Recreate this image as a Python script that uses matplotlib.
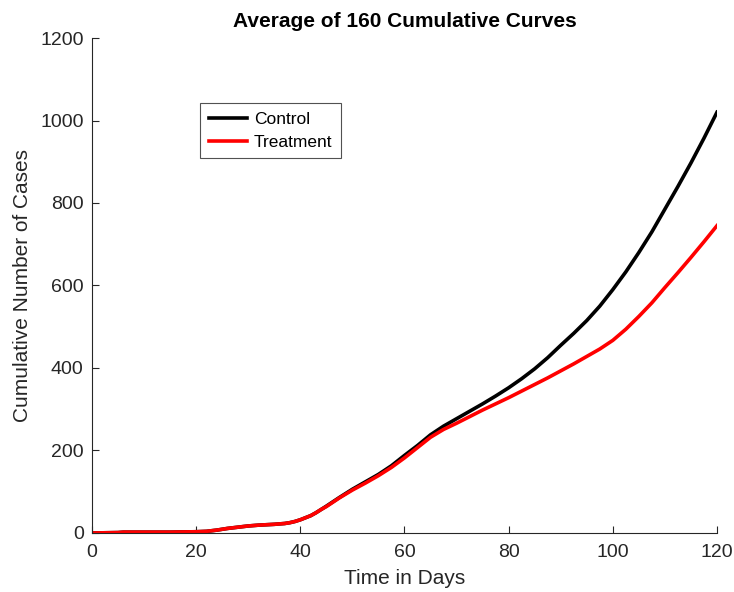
import numpy as np
import matplotlib.pyplot as plt

plt.rcParams['font.family'] = ['Liberation Sans', 'DejaVu Sans']

# averaged cumulative cases
days = [0, 5, 6, 10, 15, 20, 22, 24, 26, 28, 30, 32, 35, 37, 38, 39, 40, 41, 42,
        43, 44, 45, 47.5, 50, 52.5, 55, 57.5, 60, 62.5, 65, 67.5, 70, 72.5, 75,
        77.5, 80, 82.5, 85, 87.5, 90, 92.5, 95, 97.5, 100, 102.5, 105, 107.5,
        110, 112.5, 115, 117.5, 120]
control = [0, 1, 2, 2, 2, 3, 4, 7, 11, 14, 17, 19, 21, 23, 25, 28, 32, 37, 42,
           49, 57, 65, 86, 106, 124, 142, 163, 188, 212, 238, 259, 277, 295, 313,
           332, 352, 374, 398, 425, 455, 484, 515, 550, 590, 633, 680, 730,
           785, 840, 897, 957, 1020]
treatment = [0, 1, 2, 2, 2, 3, 4, 7, 11, 14, 17, 19, 21, 23, 25, 28, 32, 37, 42,
             49, 57, 64, 85, 104, 121, 139, 159, 182, 207, 232, 251, 266, 282, 298,
             313, 328, 344, 360, 376, 393, 410, 428, 446, 467, 494, 525, 558,
             595, 631, 668, 706, 745]

fig = plt.figure(figsize=(7.34, 5.92), dpi=100)
ax = fig.add_axes([0.1253, 0.0997, 0.8515, 0.8361])

ax.plot(days, control, color='black', lw=2.6, label='Control')
ax.plot(days, treatment, color='red', lw=2.6, label='Treatment')

ax.set_xlim(0, 120)
ax.set_ylim(0, 1200)
ax.set_xticks(np.arange(0, 121, 20))
ax.set_yticks(np.arange(0, 1201, 200))

gray = '#262626'
for side in ['top', 'right']:
    ax.spines[side].set_visible(False)
for side in ['left', 'bottom']:
    ax.spines[side].set_color(gray)
    ax.spines[side].set_linewidth(0.8)
ax.tick_params(direction='in', length=5, width=0.8, colors=gray, labelsize=14,
               labelcolor=gray, pad=6)
ax.tick_params(axis='x', pad=8)

ax.set_xlabel('Time in Days', fontsize=15, color=gray, labelpad=6)
ax.set_ylabel('Cumulative Number of Cases', fontsize=15, color=gray, labelpad=6)
ax.set_title('Average of 160 Cumulative Curves', fontsize=15, fontweight='bold', pad=8)

leg = ax.legend(loc='upper left', bbox_to_anchor=(0.173, 0.869), borderaxespad=0,
                fancybox=False, fontsize=12.5, handlelength=2.2, borderpad=0.5,
                labelspacing=0.45, handletextpad=0.4)
leg.get_frame().set_edgecolor(gray)
leg.get_frame().set_linewidth(0.8)

fig.savefig('out.png', dpi=100)
